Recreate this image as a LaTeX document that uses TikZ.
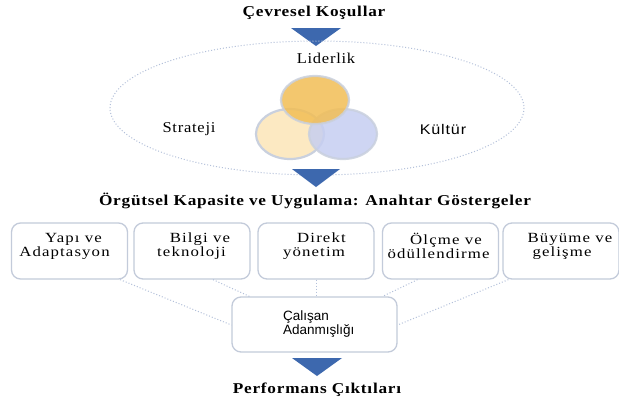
\documentclass[tikz,border=0pt]{standalone}
\usepackage{fontspec}
\setmainfont{Liberation Serif}
\setsansfont{Liberation Sans}
\usetikzlibrary{calc}
\definecolor{tri}{HTML}{3D68AE}
\definecolor{dotc}{HTML}{B3C0DA}
\definecolor{boxc}{HTML}{C3CBDA}
\definecolor{orangec}{HTML}{F2BE55}
\definecolor{creamc}{HTML}{FCE9C2}
\definecolor{lavc}{HTML}{C6CEF1}
\definecolor{ringc}{HTML}{C9D0DE}
\tikzset{
  x=1pt, y=-1pt,
  titletxt/.style={font=\fontsize{15}{17}\selectfont\bfseries\addfontfeatures{FakeStretch=1.15,LetterSpace=5}, inner sep=0},
  plaintxt/.style={font=\fontsize{15}{17}\selectfont\addfontfeatures{FakeStretch=1.1,LetterSpace=5}, inner sep=0},
  ksans/.style={font=\sffamily\fontsize{14}{16}\selectfont\addfontfeatures{FakeStretch=1.15,LetterSpace=6}, inner sep=0},
  sanstxt/.style={font=\sffamily\fontsize{13.5}{14}\selectfont, inner sep=0},
  boxtxt/.style={font=\fontsize{14}{14}\selectfont\addfontfeatures{FakeStretch=1.2,LetterSpace=8}, align=center, inner sep=0},
  kbox/.style={draw=boxc, line width=1.3pt, rounded corners=9pt, minimum width=116pt, minimum height=56pt, fill=white, inner sep=0},
  cbox/.style={draw=boxc, line width=1.3pt, rounded corners=9pt, minimum width=165pt, minimum height=55pt, fill=white, inner sep=0},
  dotline/.style={draw=dotc, line width=1pt, dotted},
  ring/.style={draw=ringc, line width=2.2pt},
  downtri/.style={fill=tri}
}
\begin{document}
\begin{tikzpicture}
\useasboundingbox (0,0) rectangle (619,400);
\fill[white] (0,0) rectangle (619,400);

% title
\node[titletxt] (t1) at (314,13) {Çevresel Koşullar};
\fill[downtri] (291,28) -- (341,28) -- (316,46) -- cycle;

% dotted ellipse
\draw[dotline] (317,108) ellipse [x radius=207, y radius=67];

\node[plaintxt] (lid) at (326,58) {Liderlik};
\node[plaintxt] (str) at (189,129) {Strateji};
\node[ksans] (kul) at (443,129) {Kültür};

% venn
\fill[creamc] (290,134) ellipse [x radius=34, y radius=25];
\draw[ring] (290,134) ellipse [x radius=34, y radius=25];
\fill[lavc, fill opacity=0.85] (343,134) ellipse [x radius=34, y radius=25];
\draw[ring, draw opacity=0.85] (343,134) ellipse [x radius=34, y radius=25];
\fill[orangec, fill opacity=0.85] (315,100) ellipse [x radius=34, y radius=24];
\draw[ring, draw opacity=0.85] (315,100) ellipse [x radius=34, y radius=24];

\fill[downtri] (292,169) -- (340,169) -- (316,187) -- cycle;

\node[titletxt] (t2) at (315,201) {Örgütsel Kapasite ve  Uygulama: Anahtar Göstergeler};

% boxes
\node[kbox] (b1) at (69.5,251) {};
\node[kbox] (b2) at (192,251) {};
\node[kbox] (b3) at (316,251) {};
\node[kbox] (b4) at (440.5,251) {};
\node[kbox] (b5) at (561,251) {};
\node[cbox] (c) at (314.5,324.5) {};

\node[boxtxt] (x1) at ($(b1.center)+(-5,-5)$) {\hspace*{18pt}Yapı ve\\Adaptasyon};
\node[boxtxt] (x2) at ($(b2.center)+(-0.5,-5)$) {\hspace*{17pt}Bilgi ve\\teknoloji};
\node[boxtxt] (x3) at ($(b3.center)+(-2,-5)$) {\hspace*{15pt}Direkt\\yönetim};
\node[boxtxt] (x4) at ($(b4.center)+(-2,-5)$) {\hspace*{15pt}Ölçme ve\\ödüllendirme};
\node[boxtxt, anchor=base west] (x5) at ($(b5.west)+(25,-9)$) {Büyüme ve};
\node[boxtxt, anchor=base west] (x5b) at ($(b5.west)+(30,5)$) {gelişme};
\node[sanstxt, anchor=west, align=left] (xc) at (283,324) {Çalışan\\Adanmışlığı};

% dotted connectors
\draw[dotline] ($(b1.south east)+(-8,0)$) -- ($(c.west)+(0,0.5)$);
\draw[dotline] ($(b2.south)+(21,0)$) -- ($(c.north west)+(18,0)$);
\draw[dotline] (b3.south) -- ($(c.north)+(1.5,0)$);
\draw[dotline] ($(b4.south)+(-23,0)$) -- ($(c.north east)+(-15,0)$);
\draw[dotline] ($(b5.south west)+(6,0)$) -- ($(c.east)+(0,0.5)$);

\fill[downtri] (292,358) -- (342,358) -- (317,376) -- cycle;
\node[titletxt] (t3) at (317,390) {Performans Çıktıları};
\end{tikzpicture}
\end{document}
